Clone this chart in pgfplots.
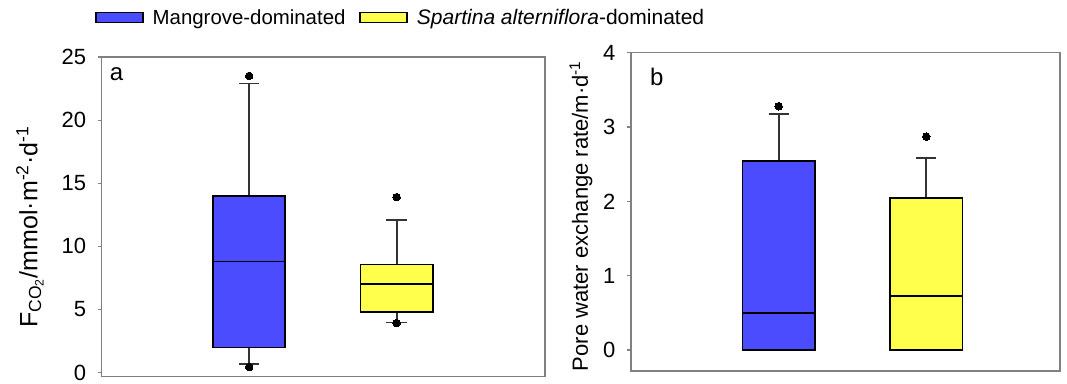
\documentclass[border=0pt]{standalone}
\usepackage{fontspec}
\setmainfont{Liberation Sans}
\usepackage{pgfplots}
\pgfplotsset{compat=1.18}
\usepgfplotslibrary{statistics}
\definecolor{mblue}{RGB}{76,76,255}
\definecolor{myellow}{RGB}{255,255,76}
\definecolor{framegray}{RGB}{128,128,128}
\definecolor{whisk}{RGB}{51,51,51}
\pgfplotsset{
  mystyle/.style={
    scale only axis,
    axis line style={framegray, line width=1.2pt},
    xtick=\empty,
    ytick pos=left,
    tick align=outside,
    major tick length=4pt,
    y tick style={framegray, line width=1.2pt},
    tick label style={font=\fontsize{22}{26}\selectfont},
    yticklabel style={xshift=-8pt},
    /pgf/number format/assume math mode=true,
    label style={font=\fontsize{22}{26}\selectfont},
    boxplot/draw direction=y,
    boxplot/every box/.style={draw=black, line width=1.8pt},
    boxplot/every median/.style={draw=black, line width=1.8pt},
    boxplot/every whisker/.style={draw=whisk, line width=1.8pt},
    clip=false,
  },
  outl/.style={line width=1.8pt, mark=*, mark size=3.8pt, mark options={fill=black, draw=black, solid, line width=0pt}},
  rectleg/.style={legend image code/.code={\draw[##1] (0pt,-5pt) rectangle (47pt,5pt);}},
}
\begin{document}
\begin{tikzpicture}
\useasboundingbox (0,0) rectangle (1067pt,-383pt);
% panel a
\begin{axis}[mystyle,
  at={(101.7pt,-376.7pt)}, anchor=south west,
  width=443.3pt, height=319.7pt,
  xmin=0, xmax=3.006, ymin=-0.32, ymax=25,
  ytick={0,5,10,15,20,25},
  ylabel={F\textsubscript{CO\textsubscript{2}}/mmol·m\textsuperscript{-2}·d\textsuperscript{-1}},
  ylabel style={at={(axis description cs:-0.162,0.468)}, anchor=center, font=\fontsize{25}{29}\selectfont},
  legend columns=2,
  legend style={draw=none, fill=none, inner sep=0pt,
    at={(axis description cs:-0.0151,1.1236)}, anchor=west,
    font=\fontsize{20.4}{24}\selectfont,
    /tikz/every odd column/.append style={column sep=7pt},
    /tikz/every even column/.append style={column sep=12pt}},
]
\addlegendimage{rectleg, draw=black, fill=mblue, line width=1.5pt}
\addlegendentry{Mangrove-dominated}
\addlegendimage{rectleg, draw=black, fill=myellow, line width=1.5pt}
\addlegendentry{\fontsize{21}{24}\selectfont\textit{Spartina alterniflora}-dominated}
\addplot[forget plot, boxplot prepared={draw position=1, lower whisker=0.7, lower quartile=2.0, median=8.8, upper quartile=14.0, upper whisker=22.9, box extend=0.49, whisker extend=0.14}, fill=mblue, draw=black, outl]
  table[row sep=\\, y index=0] {y\\ 23.5\\ 0.45\\};
\addplot[forget plot, boxplot prepared={draw position=2, lower whisker=3.98, lower quartile=4.83, median=7.04, upper quartile=8.57, upper whisker=12.1, box extend=0.49, whisker extend=0.14}, fill=myellow, draw=black, outl]
  table[row sep=\\, y index=0] {y\\ 13.9\\ 3.93\\};
\node[anchor=north west, inner sep=0pt, font=\fontsize{24}{28}\selectfont, xshift=8pt, yshift=-10pt] at (rel axis cs:0,1) {a};
\end{axis}
% panel b
\begin{axis}[mystyle,
  at={(631pt,-371pt)}, anchor=south west,
  width=429pt, height=318.3pt,
  xmin=0, xmax=2.906, ymin=-0.283, ymax=4,
  ytick={0,1,2,3,4},
  ylabel={Pore water exchange rate/m·d\textsuperscript{-1}},
  ylabel style={at={(axis description cs:-0.1166,0.487)}, anchor=center},
]
\addplot[forget plot, boxplot prepared={draw position=1, lower whisker=0, lower quartile=0, median=0.50, upper quartile=2.54, upper whisker=3.18, box extend=0.49, whisker extend=0.137}, fill=mblue, draw=black, outl]
  table[row sep=\\, y index=0] {y\\ 3.28\\};
\addplot[forget plot, boxplot prepared={draw position=2, lower whisker=0, lower quartile=0, median=0.73, upper quartile=2.04, upper whisker=2.58, box extend=0.49, whisker extend=0.137}, fill=myellow, draw=black, outl]
  table[row sep=\\, y index=0] {y\\ 2.87\\};
\node[anchor=north west, inner sep=0pt, font=\fontsize{24}{28}\selectfont, xshift=19pt, yshift=-15pt] at (rel axis cs:0,1) {b};
\end{axis}
\end{tikzpicture}
\end{document}
